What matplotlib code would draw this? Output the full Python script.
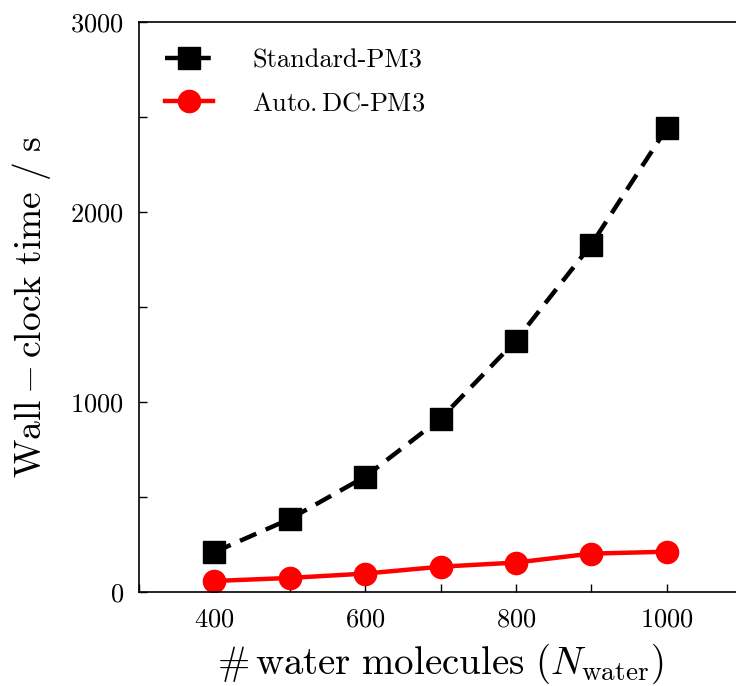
import matplotlib
matplotlib.use('Agg')
import matplotlib.pyplot as plt
from matplotlib.ticker import MultipleLocator

# data
n_water = [400, 500, 600, 700, 800, 900, 1000]
t_standard = [210, 384, 607, 912, 1323, 1828, 2440]
t_dc = [58, 74, 97, 133, 155, 202, 212]

plt.rcParams['font.family'] = ['cmr10', 'DejaVu Serif']
plt.rcParams['mathtext.fontset'] = 'cm'
plt.rcParams['axes.formatter.use_mathtext'] = True

fig = plt.figure(figsize=(7.36, 6.86), dpi=100)
# axes runs a bit past the right edge, as in the reference
ax = fig.add_axes([139 / 736, 94 / 686, 603 / 736, 570 / 686])

ax.plot(n_water, t_standard, 's--', color='black', lw=3.2, ms=16,
        dashes=(4, 2.3), label='Standard-PM3')
ax.plot(n_water, t_dc, 'o-', color='red', lw=3.2, ms=16,
        label=r'Auto.$\,$DC-PM3')

ax.set_xlim(300, 1100)
ax.set_ylim(0, 3000)
ax.xaxis.set_major_locator(MultipleLocator(200))
ax.xaxis.set_minor_locator(MultipleLocator(100))
ax.yaxis.set_major_locator(MultipleLocator(1000))
ax.yaxis.set_minor_locator(MultipleLocator(500))
ax.tick_params(which='both', direction='in', labelsize=19, width=1)
ax.tick_params(which='major', length=6, pad=11)
ax.tick_params(which='minor', length=6)
for s in ax.spines.values():
    s.set_linewidth(1.2)

ax.set_xlabel(r'$\#\,\mathrm{water\ molecules}\ (N_{\mathrm{water}})$', fontsize=28, labelpad=8)
ax.set_ylabel(r'$\mathrm{Wall-clock\ time\ /\ s}$', fontsize=27, labelpad=12)

ax.legend(loc='upper left', frameon=False, fontsize=19, handlelength=1.8,
          handletextpad=1.5, borderaxespad=0.6, labelspacing=0.75)

fig.savefig('out.png', dpi=100)
